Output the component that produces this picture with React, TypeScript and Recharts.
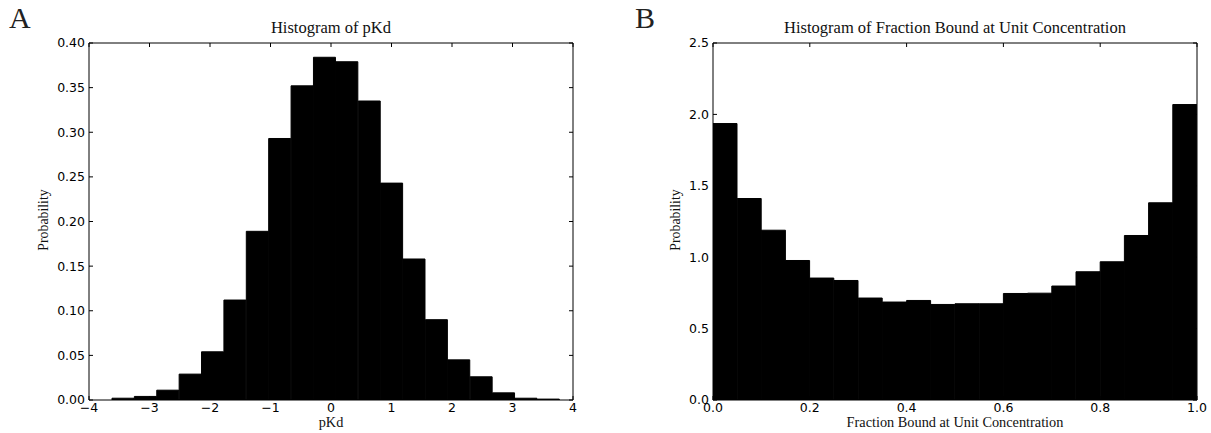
import React from "react";
import { BarChart, Bar, XAxis, YAxis } from "recharts";

/* pKd histogram: bin centres (bin width 0.37) and probability per bin */
const pkdCenters = [
  -3.435, -3.065, -2.695, -2.325, -1.955, -1.585, -1.215, -0.845, -0.475, -0.105,
  0.265, 0.635, 1.005, 1.375, 1.745, 2.115, 2.485, 2.855, 3.225, 3.595,
];
const pkdProb = [
  0.002, 0.004, 0.011, 0.029, 0.054, 0.112, 0.189, 0.293, 0.352, 0.384,
  0.379, 0.335, 0.243, 0.158, 0.090, 0.045, 0.026, 0.008, 0.002, 0.001,
];
const pkdXTicks = [-4, -3, -2, -1, 0, 1, 2, 3, 4];
const pkdYTicks = [0, 0.05, 0.1, 0.15, 0.2, 0.25, 0.3, 0.35, 0.4];

/* fraction bound histogram: 20 bins of 0.05 */
const fbCenters = [
  0.025, 0.075, 0.125, 0.175, 0.225, 0.275, 0.325, 0.375, 0.425, 0.475,
  0.525, 0.575, 0.625, 0.675, 0.725, 0.775, 0.825, 0.875, 0.925, 0.975,
];
const fbProb = [
  1.936, 1.411, 1.189, 0.977, 0.854, 0.837, 0.714, 0.686, 0.697, 0.669,
  0.674, 0.674, 0.746, 0.748, 0.798, 0.898, 0.968, 1.152, 1.381, 2.069,
];
const fbXTicks = [0, 0.2, 0.4, 0.6, 0.8, 1.0];
const fbYTicks = [0, 0.5, 1.0, 1.5, 2.0, 2.5];

const PLOT_W = 484;
const TICK_FONT = { fill: "#000", fontSize: 12.5, fontFamily: "DejaVu Sans" };
const SERIF = "'Liberation Serif', 'DejaVu Serif', serif";
const minus = (s: string) => s.replace("-", "\u2212");

interface HistProps {
  left: number;
  width: number;
  margin: { top: number; right: number; bottom: number; left: number };
  centers: number[];
  values: number[];
  xDomain: [number, number];
  xTicks: number[];
  yDomain: [number, number];
  yTicks: number[];
  xFmt: (v: number) => string;
  yFmt: (v: number) => string;
  letter: string;
  letterX: number;
  title: string;
  xLabel: string;
  ylabelX: number;
}

function Histogram(p: HistProps) {
  const data = p.centers.map((c, i) => ({ x: c, prob: p.values[i] }));
  const plotLeft = p.margin.left + 50;
  const midX = plotLeft + PLOT_W / 2;
  return (
    <div style={{ position: "absolute", left: p.left, top: 0, width: p.width, height: 433 }}>
      <div style={{ position: "absolute", left: p.letterX, top: 1, fontFamily: SERIF, fontSize: 30, color: "#222" }}>
        {p.letter}
      </div>
      <div style={{ position: "absolute", left: midX - 300, width: 600, top: 18, textAlign: "center",
        fontFamily: SERIF, fontSize: 16.5, color: "#111" }}>
        {p.title}
      </div>
      <div style={{ position: "absolute", left: midX - 300, width: 600, top: 414, textAlign: "center",
        fontFamily: SERIF, fontSize: 14.3, color: "#111" }}>
        {p.xLabel}
      </div>
      <div style={{ position: "absolute", left: p.ylabelX - 100, width: 200, top: 212, textAlign: "center",
        fontFamily: SERIF, fontSize: 13.8, color: "#111", transform: "rotate(-90deg)" }}>
        Probability
      </div>
      <BarChart width={p.width} height={433} data={data} margin={p.margin}
        barCategoryGap={0} barGap={0} style={{ position: "absolute", left: 0, top: 0 }}>
        <XAxis xAxisId="b" dataKey="x" type="number" domain={p.xDomain} ticks={p.xTicks}
          allowDataOverflow interval={0} height={30} orientation="bottom"
          tickSize={-4} tickMargin={7} tick={TICK_FONT} tickFormatter={p.xFmt}
          axisLine={{ stroke: "#000" }} tickLine={{ stroke: "#000" }} />
        <XAxis xAxisId="t" dataKey="x" type="number" domain={p.xDomain} ticks={p.xTicks}
          allowDataOverflow interval={0} height={10} orientation="top"
          tickSize={-4} tickFormatter={() => ""}
          axisLine={{ stroke: "#000" }} tickLine={{ stroke: "#000" }} />
        <YAxis yAxisId="l" type="number" domain={p.yDomain} ticks={p.yTicks} allowDataOverflow
          interval={0} width={50} orientation="left" tickSize={-4} tickMargin={8}
          tick={TICK_FONT} tickFormatter={p.yFmt}
          axisLine={{ stroke: "#000" }} tickLine={{ stroke: "#000" }} />
        <YAxis yAxisId="r" type="number" domain={p.yDomain} ticks={p.yTicks} allowDataOverflow
          interval={0} width={10} orientation="right" tickSize={-4} tickFormatter={() => ""}
          axisLine={{ stroke: "#000" }} tickLine={{ stroke: "#000" }} />
        <Bar xAxisId="b" yAxisId="l" dataKey="prob" fill="#000" stroke="#000" strokeWidth={1}
          isAnimationActive={false} />
      </BarChart>
    </div>
  );
}

export default function App() {
  return (
    <div style={{ position: "absolute", left: 0, top: 0, width: 1211, height: 433, background: "#fff", overflow: "hidden" }}>
      <Histogram
        left={0} width={600}
        margin={{ top: 33, right: 17, bottom: 3, left: 39 }}
        centers={pkdCenters} values={pkdProb}
        xDomain={[-4, 4]} xTicks={pkdXTicks}
        yDomain={[0, 0.4]} yTicks={pkdYTicks}
        xFmt={(v) => minus(String(v))} yFmt={(v) => v.toFixed(2)}
        letter="A" letterX={9}
        title="Histogram of pKd" xLabel="pKd" ylabelX={44}
      />
      <Histogram
        left={600} width={611}
        margin={{ top: 33, right: 4, bottom: 3, left: 63 }}
        centers={fbCenters} values={fbProb}
        xDomain={[0, 1]} xTicks={fbXTicks}
        yDomain={[0, 2.5]} yTicks={fbYTicks}
        xFmt={(v) => v.toFixed(1)} yFmt={(v) => v.toFixed(1)}
        letter="B" letterX={35}
        title="Histogram of Fraction Bound at Unit Concentration"
        xLabel="Fraction Bound at Unit Concentration" ylabelX={76}
      />
    </div>
  );
}
